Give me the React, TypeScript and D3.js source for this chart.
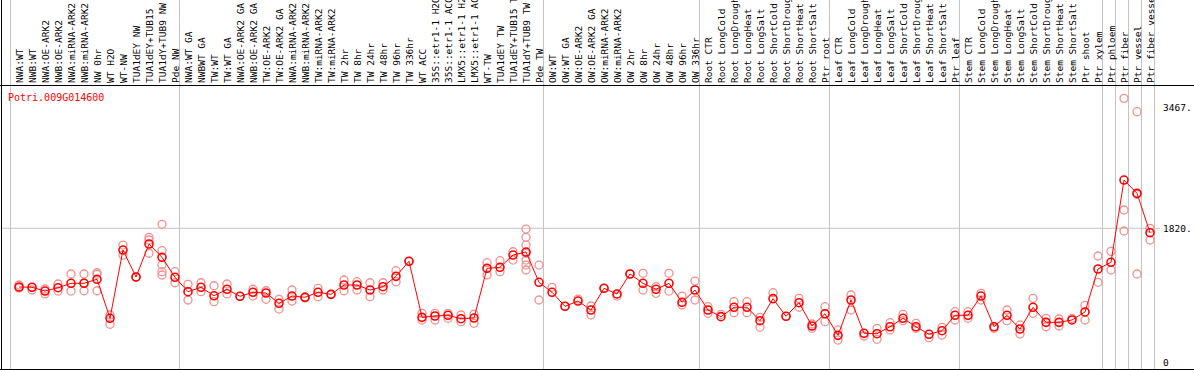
import React from "react";
import * as d3 from "d3";

const title = "Potri.009G014600";

const groups: string[][] = [
  ["NWA:WT", "NWB:WT", "NWA:OE-ARK2", "NWB:OE-ARK2", "NWA:miRNA-ARK2", "NWB:miRNA-ARK2", "NW 0hr", "WT H2O", "WT-NW", "TUA1dEY NW", "TUA1dEY+TUB15", "TUA1dY+TUB9 NW", "Pde NW"],
  ["NWA:WT GA", "NWBWT GA", "TW:WT", "TW:WT GA", "NWA:OE-ARK2 GA", "NWB:OE-ARK2 GA", "TW:OE-ARK2", "TW:OE-ARK2 GA", "NWA:miRNA-ARK2", "NWB:miRNA-ARK2", "TW:miRNA-ARK2", "TW:miRNA-ARK2", "TW 2hr", "TW 8hr", "TW 24hr", "TW 48hr", "TW 96hr", "TW 336hr", "WT ACC", "35S::etr1-1 H2O", "35S::etr1-1 ACC", "LMX5::etr1-1 H2O", "LMX5::etr1-1 ACC", "WT-TW", "TUA1dEY TW", "TUA1dEY+TUB15 TW", "TUA1dY+TUB9 TW", "Pde TW"],
  ["OW:WT", "OW:WT GA", "OW:OE-ARK2", "OW:OE-ARK2 GA", "OW:miRNA-ARK2", "OW:miRNA-ARK2", "OW 2hr", "OW 8hr", "OW 24hr", "OW 48hr", "OW 96hr", "OW 336hr"],
  ["Root CTR", "Root LongCold", "Root LongDrought", "Root LongHeat", "Root LongSalt", "Root ShortCold", "Root ShortDrought", "Root ShortHeat", "Root ShortSalt", "Ptr root"],
  ["Leaf CTR", "Leaf LongCold", "Leaf LongDrought", "Leaf LongHeat", "Leaf LongSalt", "Leaf ShortCold", "Leaf ShortDrought", "Leaf ShortHeat", "Leaf ShortSalt", "Ptr leaf"],
  ["Stem CTR", "Stem LongCold", "Stem LongDrought", "Stem LongHeat", "Stem LongSalt", "Stem ShortCold", "Stem ShortDrought", "Stem ShortHeat", "Stem ShortSalt", "Ptr shoot", "Ptr xylem"],
  ["Ptr phloem"],
  ["Ptr fiber"],
  ["Ptr vessel"],
  ["Ptr fiber vessel"],
];

const means: number[] = [
  1021, 1017, 966, 1011, 1071, 1071, 1126, 595, 1524, 1157, 1606, 1425, 1153,
  957, 1017, 902, 990, 894, 949, 939, 799, 898, 881, 949, 921, 1048, 1048, 980, 1025, 1166, 1371, 608, 626, 636, 589, 599, 1275, 1289, 1456, 1497, 1085,
  949, 758, 830, 708, 1003, 926, 1198, 1071, 990, 1071, 813, 980,
  708, 617, 745, 745, 562, 862, 622, 807, 490, 657,
  363, 844, 391, 385, 480, 595, 480, 377, 426, 636,
  636, 898, 480, 636, 449, 745, 540, 540, 572, 681, 1266,
  1357, 2477, 2296, 1760,
];

const reps: number[][] = [
  [1048, 1007], [980, 1017], [994, 926], [1062, 966], [1198, 966], [1198, 1075, 970], [1215, 1194, 970], [640, 513], [1592, 1456], [1157], [1697, 1661, 1480], [1874, 1515, 1320, 1229, 1184], [1229, 1079],
  [1058, 844], [1079, 957], [1038, 821], [1062, 926], [894], [990, 898], [970, 853], [853, 721], [980, 830], [885, 871], [1003, 889], [921], [1116, 970], [1093, 980], [1079, 889], [1079, 980], [1243, 1093], [1371], [663, 572], [663, 572], [663, 595], [640, 549], [653, 527], [1352, 1184], [1379, 1229], [1501, 1388], [1810, 1697, 1592, 1480, 1388, 1320, 1252], [1320, 844],
  [1017], [758], [857], [762, 640], [1003], [898], [1198], [1207, 980], [1025, 935], [1207, 966], [898, 776], [1102, 844],
  [753, 663], [649], [821, 671], [821, 671], [608, 472], [943], [622], [867, 745], [517, 459], [753, 549],
  [436, 299], [912, 708], [354], [459, 309], [535, 436], [649, 562], [527, 459], [331], [472, 367], [685, 572],
  [685, 595], [935, 844], [459], [708, 562], [504, 381], [867, 663], [595, 480], [585, 490], [595], [772, 572], [1443, 1085],
  [1506, 1252], [3589, 2069, 1783], [3407, 1198, 2283], [1820, 1661],
];

const yTicks: number[] = [0, 1820, 3467];
const yTickLabels: string[] = ["0", "1820.", "3467."];

export default function App() {
  const W = 1194;
  const H = 370;
  const labels = groups.flat();
  const n = labels.length;
  const x = d3.scaleLinear().domain([0, n]).range([10.5, 10.5 + 13 * n]);
  const px = (i: number) => x(i) + 8.5;
  const y = d3.scaleLinear().domain([0, 3467]).range([362, 107.3]);
  const line = d3.line<number>().x((_, i) => px(i)).y((d) => y(d));

  const bounds: number[] = [0];
  let acc = 0;
  groups.forEach((g) => {
    acc += g.length;
    bounds.push(acc);
  });

  const mono = "'DejaVu Sans Mono', 'Liberation Mono', monospace";

  return (
    <svg width={W} height={H} style={{ position: "absolute", left: 0, top: 0, background: "#fff" }} fontFamily={mono}>
      <rect x={0} y={0} width={W} height={H} fill="#fff" />
      {bounds.map((b, i) => (
        <line key={"g" + i} x1={x(b)} x2={x(b)} y1={0} y2={369} stroke="#c4c4c4" strokeWidth={1} />
      ))}
      <line x1={1} x2={1160} y1={y(1820)} y2={y(1820)} stroke="#c4c4c4" strokeWidth={1} />
      <line x1={0} x2={W} y1={85.5} y2={85.5} stroke="#000" strokeWidth={1} />
      <line x1={0} x2={W} y1={369.5} y2={369.5} stroke="#000" strokeWidth={1} />
      <line x1={1.5} x2={1.5} y1={0} y2={370} stroke="#000" strokeWidth={1} />
      {labels.map((l, i) => (
        <text key={"l" + i} transform={`translate(${px(i) + 3.5},83) rotate(-90)`} fontSize={9.5} fill="#000">
          {l}
        </text>
      ))}
      <text x={8} y={101} fontSize={10} fill="#ff0000">{title}</text>
      {yTicks.map((t, i) => (
        <text key={"t" + i} x={1163} y={y(t) + 3.5} fontSize={9.5} fill="#000">{yTickLabels[i]}</text>
      ))}
      {reps.map((r, i) =>
        r.map((v, j) => (
          <circle key={`r${i}-${j}`} cx={px(i)} cy={y(v)} r={4} fill="none" stroke="#f09090" strokeWidth={1.3} />
        ))
      )}
      <path d={line(means) || ""} fill="none" stroke="#ff0000" strokeWidth={1} />
      {means.map((v, i) => (
        <circle key={"m" + i} cx={px(i)} cy={y(v)} r={4} fill="none" stroke="#ff0000" strokeWidth={1.6} />
      ))}
    </svg>
  );
}
